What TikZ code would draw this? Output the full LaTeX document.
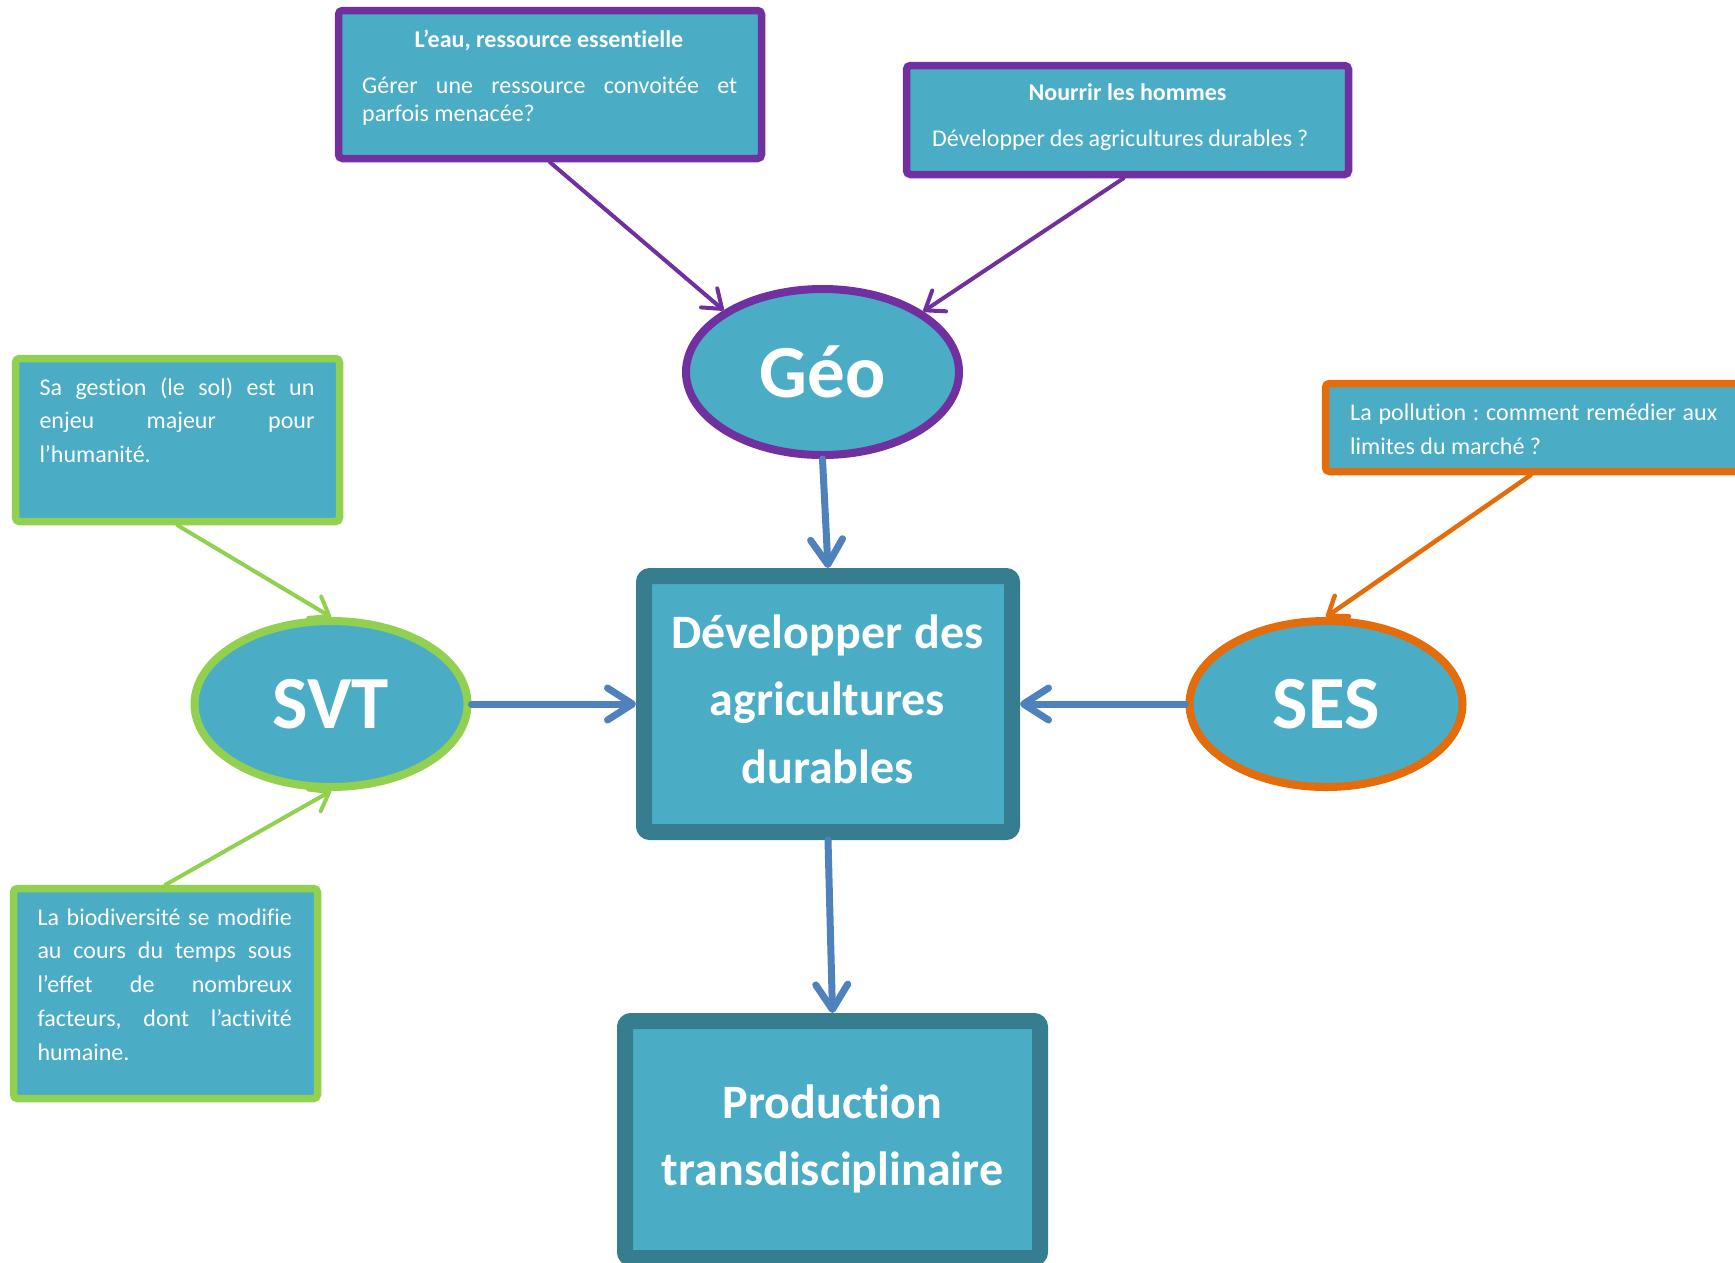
\documentclass[tikz,border=0pt]{standalone}
\usepackage{fontspec}
\setmainfont{Carlito}[Ligatures=NoCommon]
\usetikzlibrary{arrows.meta,shapes.geometric,shadows}
\frenchspacing
\definecolor{boxfill}{HTML}{4BACC6}
\definecolor{mainborder}{HTML}{367D8F}
\definecolor{purpleline}{HTML}{7030A0}
\definecolor{greenline}{HTML}{92D050}
\definecolor{orangeline}{HTML}{E46C0A}
\definecolor{arrowblue}{HTML}{4F81BD}
\newcommand{\natsp}{\frenchspacing\spaceskip=0pt\xspaceskip=0pt\relax}
\newcommand{\jline}[2]{\makebox[#1][s]{\natsp #2}}
\begin{document}
\begin{tikzpicture}[x=1pt,y=-1pt,
  shade/.style={drop shadow={opacity=0.22, shadow xshift=2pt, shadow yshift=-3pt}},
  smallbox/.style={shade, draw, line width=7.5pt, fill=boxfill, rounded corners=4pt, inner sep=0pt},
  mainbox/.style={shade, draw=mainborder, line width=16pt, fill=boxfill, rounded corners=6pt, inner sep=0pt},
  subj/.style={shade, ellipse, line width=8pt, fill=boxfill, minimum width=273pt, minimum height=166pt,
    inner sep=0pt, text=white, font=\fontsize{75pt}{90pt}\selectfont\bfseries},
  titletext/.style={inner sep=0pt, text=white, font=\fontsize{24pt}{29pt}\selectfont\bfseries},
  bodytext/.style={inner sep=0pt, text=white, align=left},
  bigtext/.style={inner sep=0pt, text=white, align=center, font=\fontsize{48pt}{67.5pt}\selectfont\bfseries},
  conn/.style={line cap=round},
  bluearrow/.style={conn, draw=arrowblue, line width=7pt, -{Straight Barb[length=25pt, width=32pt, round]}},
  purplearrow/.style={conn, draw=purpleline, line width=4pt, -{Straight Barb[length=17pt, width=25pt, round]}},
  greenarrow/.style={conn, draw=greenline, line width=4pt, -{Straight Barb[length=17pt, width=25pt, round]}},
  orangearrow/.style={conn, draw=orangeline, line width=4.5pt, -{Straight Barb[length=17pt, width=25pt, round]}}
]
\useasboundingbox (0,0) rectangle (1735,1262);
\clip (0,0) rectangle (1735,1262);

% question boxes
\node[smallbox, draw=purpleline, minimum width=423pt, minimum height=148pt] (leau) at (550,84.5) {};
\node[smallbox, draw=purpleline, minimum width=442pt, minimum height=109pt] (nourrir) at (1127.5,120) {};
\node[smallbox, draw=greenline, minimum width=324pt, minimum height=163pt] (sol) at (177.5,440) {};
\node[smallbox, draw=greenline, minimum width=304pt, minimum height=210pt] (bio) at (165.5,993.5) {};
\node[smallbox, draw=orangeline, minimum width=440pt, minimum height=88pt] (pollu) at (1545.5,427.5) {};

% main boxes
\node[mainbox, minimum width=368pt, minimum height=256pt] (dev) at (828,704) {};
\node[mainbox, minimum width=415pt, minimum height=237pt] (prod) at (832.5,1139.5) {};

% subjects
\node[subj, draw=purpleline] (geo) at (822.5,372) {Géo};
\node[subj, draw=greenline] (svt) at (331,704) {SVT};
\node[subj, draw=orangeline] (ses) at (1326,704) {SES};

% texts
\node[titletext, anchor=base] (leauT) at (549,47.7) {L’eau, ressource essentielle};
\node[bodytext, anchor=base west, text width=375pt, font=\fontsize{24pt}{28.4pt}\selectfont] (leauB) at (362,93.3)
  {\natsp\jline{375pt}{Gérer une ressource convoitée et}\\parfois menacée?};
\node[titletext, anchor=base] (nourrirT) at (1127.5,100.7) {Nourrir les hommes};
\node[bodytext, anchor=base west, font=\fontsize{24pt}{29pt}\selectfont] (nourrirB) at (932,146.7)
  {\jline{376pt}{Développer des agricultures durables ?}};
\node[bodytext, anchor=base west, text width=275pt, font=\fontsize{24pt}{33.8pt}\selectfont] (solB) at (39.3,395)
  {\natsp\jline{275pt}{Sa gestion (le sol) est un}\\\jline{275pt}{enjeu majeur pour}\\l’humanité.};
\node[bodytext, anchor=base west, text width=254.4pt, font=\fontsize{24pt}{33.8pt}\selectfont] (bioB) at (37.3,925)
  {\natsp\jline{254.4pt}{La biodiversité se modifie}\\\jline{254.4pt}{au cours du temps sous}\\\jline{254.4pt}{l’effet de nombreux}\\\jline{254.4pt}{facteurs, dont l’activité}\\humaine.};
\node[bodytext, anchor=base west, text width=367pt, font=\fontsize{24pt}{34pt}\selectfont] (polluB) at (1350,420)
  {\natsp\jline{367pt}{La pollution : comment remédier aux}\\limites du marché ?};
\node[bigtext, text width=368pt, anchor=base] (devT) at (827.5,648) {\natsp Développer des\\agricultures\\durables};
\node[bigtext, text width=415pt, anchor=base] (prodT) at (832.5,1118) {\natsp Production\\transdisciplinaire};

% connectors
\draw[purplearrow] (leau.south) -- (geo.148);
\draw[purplearrow] ([xshift=-4pt]nourrir.south) -- (geo.31);
\draw[greenarrow] (sol.south) -- (svt.north);
\draw[greenarrow] (bio.north) -- (svt.south);
\draw[orangearrow] ([xshift=-15pt]pollu.south) -- (ses.north);
\draw[bluearrow] (geo.south) -- (dev.north);
\draw[bluearrow] (svt.east) -- (dev.west);
\draw[bluearrow] (ses.west) -- (dev.east);
\draw[bluearrow] (dev.south) -- (prod.north);
\end{tikzpicture}
\end{document}
